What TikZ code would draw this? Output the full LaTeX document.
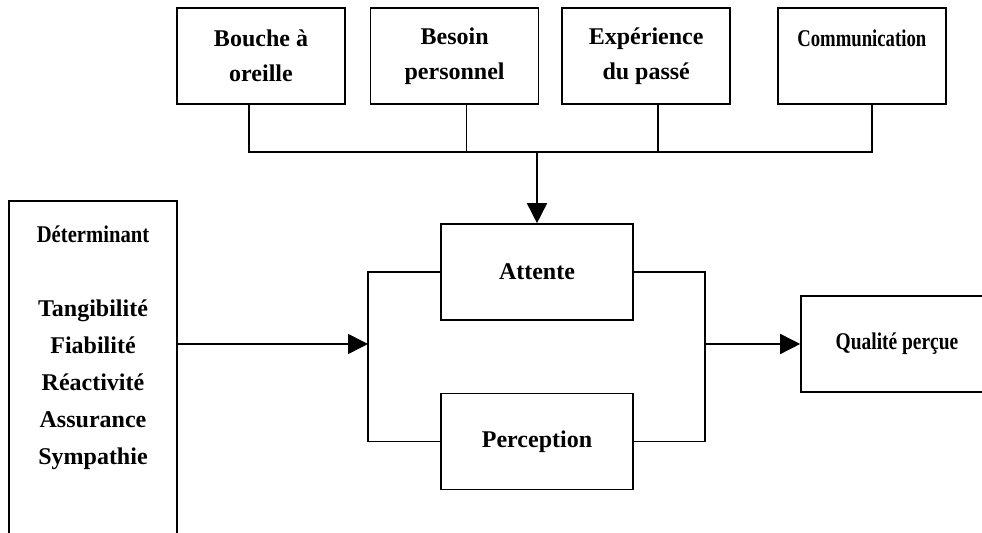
\documentclass[tikz,border=0pt]{standalone}
\usepackage{fontspec}
\setmainfont{Liberation Serif}
\usepackage{graphicx}
\usetikzlibrary{shapes,arrows.meta,positioning}
\newcommand{\narrow}[2][0.8]{\scalebox{#1}[1]{#2}}

\begin{document}
\begin{tikzpicture}[x=0.5pt, y=-0.5pt, line width=0.8pt, font=\bfseries\fontsize{12}{17.5}\selectfont]
% Define styles
\tikzstyle{source} = [rectangle, minimum width=84pt, minimum height=48pt, inner sep=0pt, text centered, align=center, draw=black]
\tikzstyle{process} = [rectangle, minimum width=96pt, minimum height=48pt, inner sep=0pt, text centered, draw=black]
\tikzstyle{arrow} = [-{Triangle[length=10pt,width=10pt]}]

\useasboundingbox (0,0) rectangle (982,533);
\clip (0,0) rectangle (982,533);

% Define nodes
\node (bouche) [source] at (261,56) {Bouche à\\oreille};
\node (besoin) [source, right=12pt of bouche] {Besoin\\personnel};
\node (experience) [source, right=11pt of besoin] {Expérience\\du passé};
\node (communication) [source, right=23pt of experience] {\narrow[0.78]{Communication}\\\mbox{}};
\node (attente) [process] at (537,272) {Attente};
\node (perception) [process, below=36pt of attente] {Perception};
\node (qualite) [process] at (897,344) {\narrow[0.81]{Qualité perçue}};
\node (det) [rectangle, draw=black, minimum width=84pt, minimum height=180pt, anchor=north] at (93,200) {};
\node (dettext) [align=center, inner sep=0pt, anchor=north, font=\bfseries\fontsize{12}{18.5}\selectfont] at (93,225)
  {\narrow[0.86]{Déterminant}\\[18.5pt]Tangibilité\\Fiabilité\\Réactivité\\Assurance\\Sympathie};
\coordinate (bus) at (537,152);
\coordinate (split) at (368,344);
\coordinate (join) at (705,344);

% Draw arrows
\draw ([xshift=-6pt]bouche.south) |- (bus);
\draw ([xshift=6pt]besoin.south) |- (bus);
\draw ([xshift=6pt]experience.south) |- (bus);
\draw ([xshift=5pt]communication.south) |- (bus);
\draw [arrow] (bus) -- (attente);
\draw [arrow] (det.east |- split) -- (split);
\draw (attente.west) -| (split) |- (perception.west);
\draw (attente.east) -| (join) |- (perception.east);
\draw [arrow] (join) -- (qualite);
\end{tikzpicture}
\end{document}
